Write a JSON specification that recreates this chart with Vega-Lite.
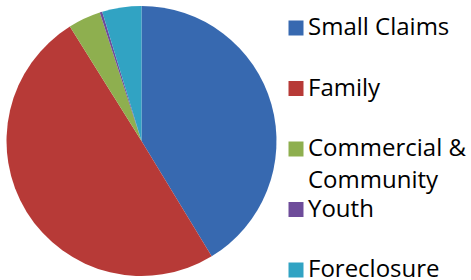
{
  "$schema": "https://vega.github.io/schema/vega-lite/v6.json",
  "width": 283,
  "height": 282,
  "autosize": "none",
  "padding": {"left": 0, "top": 0, "right": 188, "bottom": 0},
  "background": "white",
  "data": {
    "values": [
      {"k": 1, "type": "Small Claims", "value": 41.3},
      {"k": 2, "type": "Family", "value": 49.8},
      {"k": 3, "type": "Commercial & Community", "value": 3.9},
      {"k": 4, "type": "Youth", "value": 0.3},
      {"k": 5, "type": "Foreclosure", "value": 4.7}
    ]
  },
  "mark": {"type": "arc", "outerRadius": 135},
  "encoding": {
    "theta": {"field": "value", "type": "quantitative", "stack": true},
    "order": {"field": "k", "type": "quantitative", "sort": "ascending"},
    "color": {
      "field": "type",
      "type": "nominal",
      "sort": null,
      "scale": {
        "domain": ["Small Claims", "Family", "Commercial & Community", "Youth", "Foreclosure"],
        "range": ["#3769B0", "#B73A37", "#8EAF4F", "#6E4C9A", "#31A3C3"]
      },
      "legend": {
        "title": null,
        "orient": "none",
        "legendX": 284,
        "legendY": 16,
        "padding": 0,
        "symbolType": "square",
        "symbolSize": 225,
        "symbolStrokeWidth": 0,
        "labelFont": "Open Sans",
        "labelFontSize": 24,
        "labelColor": "#000000",
        "labelOffset": 0,
        "labelLimit": 300,
        "labelBaseline": "middle",
        "rowPadding": 4.5,
        "labelExpr": "datum.label == 'Commercial & Community' ? ['Commercial &', 'Community'] : [datum.label, '']"
      }
    }
  },
  "config": {
    "view": {"stroke": null},
    "style": {"guide-label": {"lineHeight": 32}}
  }
}
